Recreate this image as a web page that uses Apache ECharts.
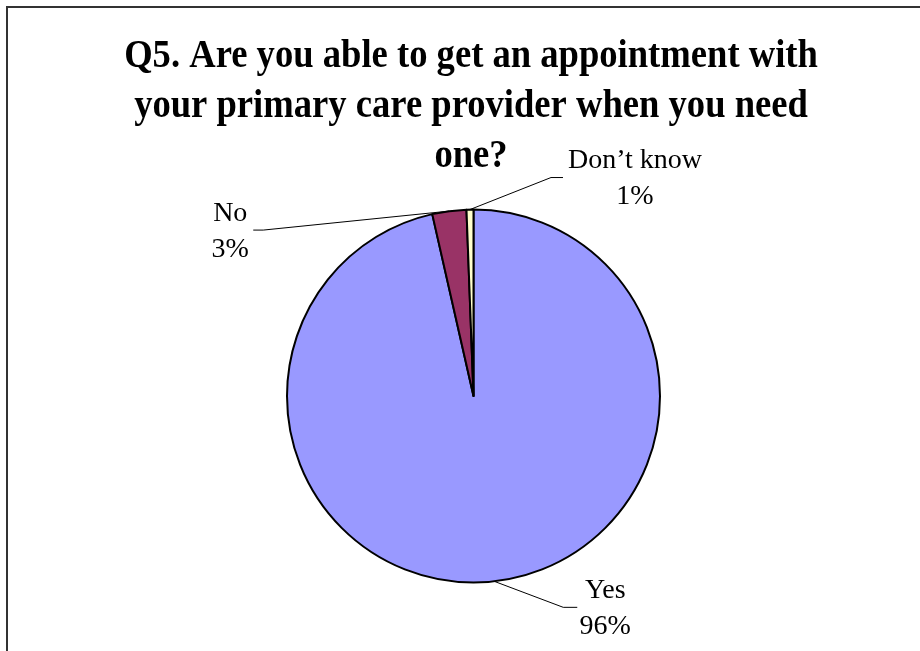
<!DOCTYPE html>
<html>
<head>
<meta charset="utf-8">
<script src="https://cdn.jsdelivr.net/npm/echarts@6/dist/echarts.min.js"></script>
<style>
  html, body { margin: 0; padding: 0; background: #ffffff; }
  #chart { width: 920px; height: 651px; }
</style>
</head>
<body>
<div id="chart"></div>
<script>
// ---- data ----
var titleText = 'Q5. Are you able to get an appointment with\nyour primary care provider when you need\none?';
var categories = ['Yes', 'No', 'Don\u2019t know'];
var values = [96.45, 2.95, 0.6];
var sliceColors = ['#9999FF', '#993366', '#FFFFCC'];

// ---- label placement (offsets of the leader-line elbow from the slice anchor) ----
var labelPlacement = {
  'Yes':          { elbow: [69, 26],   tail: 14,  text: [28, 1],  align: 'center' },
  'No':           { elbow: [-186, 19], tail: -10, text: [-23, 2], align: 'center' },
  'Don\u2019t know': { elbow: [81, -32], tail: 12,  text: [72, 1],  align: 'center' }
};

var total = values.reduce(function (a, b) { return a + b; }, 0);
var pieData = categories.map(function (c, i) {
  return { name: c, value: values[i], itemStyle: { color: sliceColors[i] } };
});

var chart = echarts.init(document.getElementById('chart'), null, { renderer: 'canvas' });
chart.setOption({
  backgroundColor: '#ffffff',
  animation: false,
  graphic: [{
    type: 'rect',
    shape: { x: 7, y: 7, width: 1000, height: 1000 },
    style: { fill: 'none', stroke: '#333333', lineWidth: 2 },
    silent: true
  }, {
    type: 'text',
    x: 471,
    y: 32,
    scaleX: 0.915,
    silent: true,
    style: {
      text: titleText,
      fontFamily: 'Liberation Serif',
      fontWeight: 'bold',
      fontSize: 40,
      lineHeight: 50,
      align: 'center',
      verticalAlign: 'top',
      fill: '#000000'
    }
  }],
  series: [{
    type: 'pie',
    center: [473.5, 396],
    radius: 186.5,
    startAngle: 90,
    clockwise: true,
    data: pieData,
    itemStyle: { borderColor: '#000000', borderWidth: 2 },
    label: {
      show: true,
      position: 'outside',
      formatter: function (p) {
        return p.name + '\n' + Math.round(p.value / total * 100) + '%';
      },
      fontFamily: 'Liberation Serif',
      fontSize: 28,
      lineHeight: 36,
      color: '#000000'
    },
    labelLine: {
      show: true,
      length: 10,
      length2: 10,
      lineStyle: { color: '#000000', width: 1 }
    },
    labelLayout: function (params) {
      var cfg = labelPlacement[params.text.split('\n')[0]];
      var pts = params.labelLinePoints;
      if (!cfg || !pts) return {};
      var a = pts[0];
      var elbow = [a[0] + cfg.elbow[0], a[1] + cfg.elbow[1]];
      var end = [elbow[0] + cfg.tail, elbow[1]];
      return {
        x: end[0] + cfg.text[0],
        y: end[1] + cfg.text[1],
        align: cfg.align,
        verticalAlign: 'middle',
        labelLinePoints: [a, elbow, end]
      };
    }
  }]
});
</script>
</body>
</html>
